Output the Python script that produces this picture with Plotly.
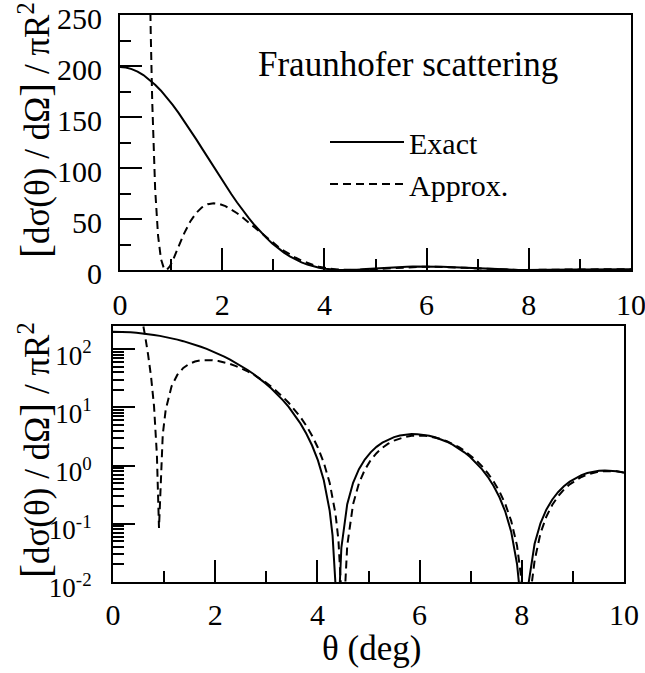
import plotly.graph_objects as go

# ---------------- data ----------------
theta_exact = [0, 0.1146, 0.2292, 0.3438, 0.4584, 0.5730, 0.6875, 0.8021, 0.9167, 1.0313,
               1.1459, 1.2605, 1.3751, 1.4897, 1.6043, 1.7189, 1.8335, 1.9481, 2.0626, 2.1772,
               2.2918, 2.4064, 2.5210, 2.6356, 2.7502, 2.8648, 2.9794, 3.0940, 3.2086, 3.3232,
               3.4377, 3.5523, 3.6669, 3.7815, 3.8961, 4.0107, 4.1253, 4.2399, 4.2972, 4.3545,
               4.3908, 4.4118, 4.4691, 4.5837, 4.6983, 4.8128, 4.9274, 5.0420, 5.1566, 5.2712,
               5.3858, 5.5004, 5.6150, 5.7296, 5.8442, 5.9588, 6.0734, 6.1879, 6.3025, 6.4171,
               6.5317, 6.6463, 6.7609, 6.8755, 6.9901, 7.1047, 7.2193, 7.3339, 7.4485, 7.5630,
               7.6776, 7.7922, 7.9068, 7.9641, 8.0214, 8.0393, 8.0787, 8.1360, 8.2506, 8.3652,
               8.4798, 8.5944, 8.7090, 8.8236, 8.9381, 9.0527, 9.1673, 9.2819, 9.3965, 9.5111,
               9.6257, 9.7403, 9.8549, 9.9695, 10.0]
exact = [198.94, 198.47, 196.96, 194.51, 191.13, 186.83, 181.69, 175.79, 169.16, 161.90,
         154.10, 145.83, 137.21, 128.31, 119.25, 110.10, 100.96, 91.92, 83.06, 74.45,
         66.17, 58.28, 50.82, 43.85, 37.39, 31.46, 26.09, 21.29, 17.04, 13.34,
         10.165, 7.499, 5.308, 3.558, 2.211, 1.226, 0.5597, 0.1684, 0.0624, 0.00906,
         1e-6, 0.00286, 0.0388, 0.2169, 0.5049, 0.8672, 1.2718, 1.6902, 2.0981, 2.4753,
         2.8058, 3.0775, 3.2822, 3.4157, 3.4767, 3.4668, 3.3906, 3.2546, 3.0668, 2.8364,
         2.5735, 2.2884, 1.9913, 1.6921, 1.4000, 1.1231, 0.8682, 0.6410, 0.4458, 0.2853,
         0.1611, 0.0732, 0.0204, 0.00645, 0.00036, 1e-6, 0.00168, 0.00999, 0.0453, 0.1018,
         0.1746, 0.2588, 0.3492, 0.4412, 0.5303, 0.6125, 0.6846, 0.7436, 0.7878, 0.8157,
         0.8270, 0.8216, 0.8004, 0.7648, 0.7533]

theta_approx = [0.4584, 0.5157, 0.5730, 0.6016, 0.6303, 0.6875, 0.7448, 0.8021, 0.8594, 0.9000,
                0.9167, 0.9740, 1.0313, 1.1459, 1.2605, 1.3751, 1.4897, 1.6043, 1.7189, 1.8335,
                1.9481, 2.0626, 2.1772, 2.2918, 2.4064, 2.5210, 2.6356, 2.7502, 2.8648, 2.9794,
                3.0940, 3.2086, 3.3232, 3.4377, 3.5523, 3.6669, 3.7815, 3.8961, 4.0107, 4.1253,
                4.2399, 4.3545, 4.4118, 4.4691, 4.5000, 4.5264, 4.5837, 4.6983, 4.8128, 4.9274,
                5.0420, 5.1566, 5.2712, 5.3858, 5.5004, 5.6150, 5.7296, 5.8442, 5.9588, 6.0734,
                6.1879, 6.3025, 6.4171, 6.5317, 6.6463, 6.7609, 6.8755, 6.9901, 7.1047, 7.2193,
                7.3339, 7.4485, 7.5630, 7.6776, 7.7922, 7.9068, 8.0214, 8.0787, 8.1000, 8.1360,
                8.1933, 8.2506, 8.3652, 8.4798, 8.5944, 8.7090, 8.8236, 8.9381, 9.0527, 9.1673,
                9.2819, 9.3965, 9.5111, 9.6257, 9.7403, 9.8549, 9.9695, 10.0]
approx = [1118.5, 602.3, 321.3, 232.1, 165.6, 79.70, 33.61, 10.745, 1.504, 0.085,
          0.2109, 3.438, 9.087, 22.98, 36.44, 47.57, 55.86, 61.39, 64.46, 65.45,
          64.73, 62.65, 59.53, 55.63, 51.19, 46.43, 41.51, 36.58, 31.76, 27.14,
          22.81, 18.82, 15.21, 12.003, 9.209, 6.829, 4.853, 3.260, 2.0265, 1.1202,
          0.5065, 0.1481, 0.0525, 0.00622, 1e-6, 0.00435, 0.0421, 0.2178, 0.4971, 0.8462,
          1.2341, 1.6334, 2.0223, 2.3793, 2.6897, 2.9421, 3.1289, 3.2460, 3.2928, 3.2715,
          3.1866, 3.0449, 2.8548, 2.6255, 2.3665, 2.0887, 1.8018, 1.5155, 1.2386, 0.9787,
          0.7422, 0.5343, 0.3587, 0.2176, 0.1122, 0.0422, 0.00694, 0.000499, 1e-6, 0.0014,
          0.00917, 0.0233, 0.0685, 0.1324, 0.2100, 0.2963, 0.3867, 0.4763, 0.5610, 0.6372,
          0.7018, 0.7526, 0.7878, 0.8067, 0.8090, 0.7953, 0.7664, 0.7565]

assert len(theta_exact) == len(exact)
assert len(theta_approx) == len(approx)

series_names = ["Exact", "Approx."]
x_ticks = [0, 2, 4, 6, 8, 10]
x_minor = [1, 3, 5, 7, 9]
lin_ticks = [0, 50, 100, 150, 200, 250]
lin_minor = [25, 75, 125, 175, 225]
log_ticks = [0.01, 0.1, 1, 10, 100]
log_ticktext = ["10<sup>-2</sup>", "10<sup>-1</sup>", "10<sup>0</sup>", "10<sup>1</sup>", "10<sup>2</sup>"]
log_minor = [m * d for d in [0.01, 0.1, 1, 10] for m in range(2, 10)] + [200]

title_text = "Fraunhofer scattering"
y_title = ("<span style='font-size:42px'>[</span>dσ(θ) / dΩ<span style='font-size:42px'>]</span>"
           " / πR<sup>2</sup>")
x_title = "θ (deg)"

# ---------------- figure ----------------
FONT = "Times New Roman, Liberation Serif, Tinos, serif"
W, H = 645, 673
fig = go.Figure()

solid = dict(color="black", width=2)
dashed = dict(color="black", width=2, dash="8px,5px")

fig.add_trace(go.Scatter(x=theta_exact, y=exact, mode="lines", line=solid, name=series_names[0],
                         xaxis="x", yaxis="y"))
fig.add_trace(go.Scatter(x=theta_approx, y=approx, mode="lines", line=dashed, name=series_names[1],
                         xaxis="x", yaxis="y"))
fig.add_trace(go.Scatter(x=theta_exact, y=exact, mode="lines", line=solid, showlegend=False,
                         xaxis="x2", yaxis="y2"))
fig.add_trace(go.Scatter(x=theta_approx, y=approx, mode="lines", line=dashed, showlegend=False,
                         xaxis="x2", yaxis="y2"))

common = dict(showline=True, linewidth=2, linecolor="black", mirror=True, showgrid=False,
              zeroline=False, ticks="inside", tickwidth=2, tickcolor="black", ticklen=22,
              ticklabeloverflow="allow", automargin=False)

def px_x(a, b):
    return [a / W, b / W]

def px_y(top, bottom):
    return [(H - bottom) / H, (H - top) / H]

def minor(vals):
    return dict(tickvals=vals, ticks="inside", ticklen=11, tickwidth=2, tickcolor="black")

tick_font = dict(family=FONT, size=30, color="black")

fig.update_layout(
    width=W, height=H,
    margin=dict(l=0, r=0, t=0, b=0, autoexpand=False),
    paper_bgcolor="white", plot_bgcolor="white",
    font=dict(family=FONT, color="black"),
    showlegend=True,
    xaxis=dict(domain=px_x(120, 631), anchor="y", range=[0, 10.0001], tickmode="array",
               tickvals=x_ticks, ticklabelstandoff=7, minor=minor(x_minor),
               tickfont=tick_font, **common),
    yaxis=dict(domain=px_y(15, 270), anchor="x", range=[0, 250.001], tickmode="array",
               tickvals=lin_ticks, ticklabelstandoff=10, ticklabelshift=3, minor=minor(lin_minor),
               tickfont=tick_font, **common),
    xaxis2=dict(domain=px_x(113, 624), anchor="y2", range=[0, 10.0001], tickmode="array",
                tickvals=x_ticks, ticklabelstandoff=5, minor=minor(x_minor),
                tickfont=tick_font, **common),
    yaxis2=dict(domain=px_y(326, 582), anchor="x2", type="log", range=[-2, 2.39794],
                tickmode="array", tickvals=log_ticks, ticktext=log_ticktext,
                ticklabelstandoff=14, ticklabelshift=6, minor=minor(log_minor),
                tickfont=dict(family=FONT, size=27, color="black"), **common),
    legend=dict(x=325 / W, y=(H - 116) / H, xanchor="left", yanchor="top",
                font=dict(family=FONT, size=30, color="black"), itemwidth=74,
                bgcolor="rgba(0,0,0,0)", borderwidth=0, tracegroupgap=0),
    annotations=[
        dict(text=title_text, x=408 / W, y=(H - 64) / H, xref="paper", yref="paper",
             xanchor="center", yanchor="middle", showarrow=False,
             font=dict(family=FONT, size=35, color="black")),
        dict(text=y_title, x=35 / W, y=(H - 130) / H, xref="paper", yref="paper",
             xanchor="center", yanchor="middle", showarrow=False, textangle=-90,
             font=dict(family=FONT, size=35, color="black")),
        dict(text=y_title, x=35 / W, y=(H - 450) / H, xref="paper", yref="paper",
             xanchor="center", yanchor="middle", showarrow=False, textangle=-90,
             font=dict(family=FONT, size=35, color="black")),
        dict(text=x_title, x=371 / W, y=(H - 648) / H, xref="paper", yref="paper",
             xanchor="center", yanchor="middle", showarrow=False,
             font=dict(family=FONT, size=35, color="black")),
    ],
)

fig.write_html("out.html", config={"displayModeBar": False})
